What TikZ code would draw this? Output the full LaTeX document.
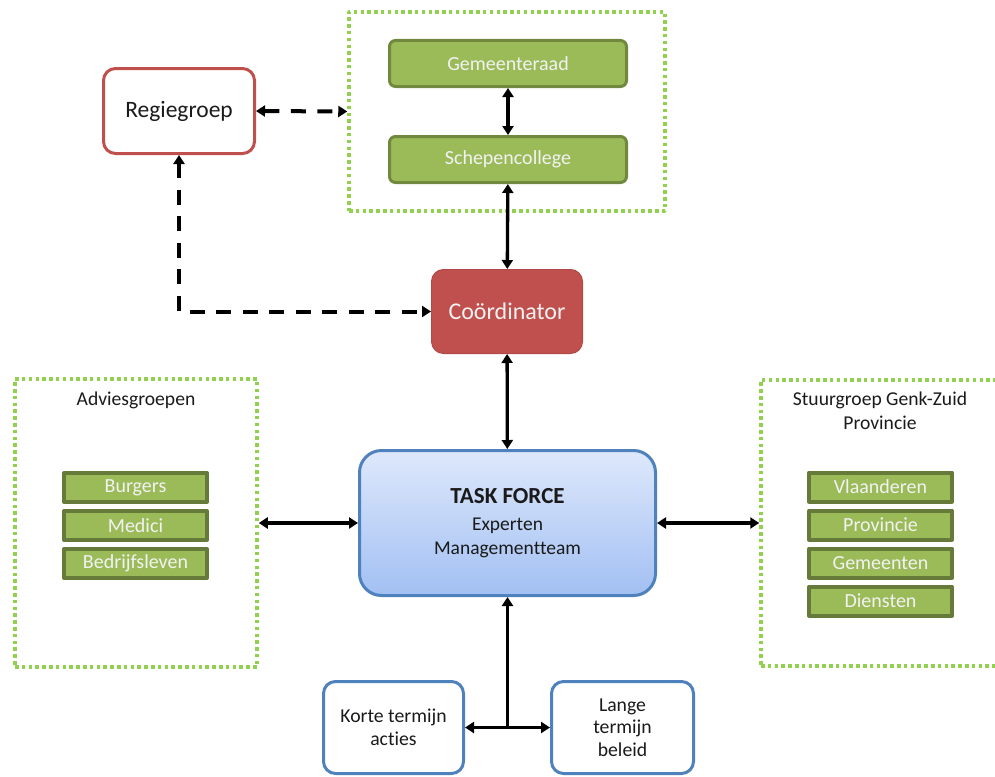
\documentclass[tikz,border=0pt]{standalone}
\usepackage{fontspec}
\setmainfont{Carlito}[Ligatures=NoCommon]
\usetikzlibrary{arrows.meta,calc}
\definecolor{olijf}{HTML}{9BBB59}
\definecolor{olijfrand}{HTML}{71893F}
\definecolor{rood}{HTML}{C0504D}
\definecolor{blauwrand}{HTML}{4F81BD}
\definecolor{blauwtop}{HTML}{DEE8FB}
\definecolor{blauwbodem}{HTML}{A2C0F3}
\definecolor{lichtgroen}{HTML}{92D050}
\definecolor{tekst}{HTML}{1A1A1A}
\tikzset{
	orgaan/.style={draw=olijfrand, line width=3pt, fill=olijf, text=white!95!black, rounded corners=6pt,
		minimum width=237pt, minimum height=46pt, font=\fontsize{20}{23}\selectfont},
	lid/.style={draw=olijfrand!90!black, line width=4pt, fill=olijf, text=white!95!black, inner sep=0pt,
		minimum width=143pt, minimum height=29pt, font=\fontsize{20}{24}\selectfont},
	groep/.style={draw=lichtgroen, line width=3.5pt, dash pattern=on 3.5pt off 3.3pt, inner sep=0pt},
	wit/.style={draw=#1, line width=3pt, fill=white, text=tekst, rounded corners=12pt, align=center},
	pijl/.style={<->, line width=3.3pt},
	stippel/.style={<->, line width=4pt, dash pattern=on 15pt off 11.5pt},
}
\begin{document}
\begin{tikzpicture}[>={Triangle[length=9pt,width=11pt]}, x=1pt, y=-1pt, line join=round]
	\useasboundingbox (0,0) rectangle (995,776);
	% bestuur bovenaan
	\node[groep, minimum width=316pt, minimum height=199pt] (bestuur) at (507,111.5) {};
	\node[orgaan] (raad) at (508,63.5) {Gemeenteraad};
	\node[orgaan] (college) at (508,159.5) {Schepencollege};
	\node[wit=rood, minimum width=151pt, minimum height=85pt, font=\fontsize{23.5}{26}\selectfont] (regie) at (179,111) {Regiegroep};
	\node[draw=rood!92!black, line width=1pt, fill=rood, text=white!95!black, rounded corners=12pt,
		minimum width=151pt, minimum height=84pt, font=\fontsize{24}{26}\selectfont] (coord) at (507,311.5) {Coördinator};
	% task force
	\node[draw=blauwrand, line width=3pt, top color=blauwtop, bottom color=blauwbodem,
		rounded corners=22pt, minimum width=296pt, minimum height=145pt, align=center, text=tekst,
		font=\fontsize{19.5}{24}\selectfont] (task) at (507.5,523)
		{{\fontsize{23}{26}\selectfont\bfseries TASK FORCE}\\[3pt]Experten\\Managementteam};
	% adviesgroepen links
	\node[groep, minimum width=242pt, minimum height=288pt] (advies) at (136,523) {};
	\node[text=tekst, font=\fontsize{19.6}{23}\selectfont] (adviestitel) at (136,400) {Adviesgroepen};
	\foreach \naam [count=\i] in {Burgers,Medici,Bedrijfsleven}
		\node[lid] (advies\i) at (135.5,{487.5+38*(\i-1)}) {\naam};
	% stuurgroep rechts
	\node[groep, minimum width=240pt, minimum height=286pt] (stuur) at (881,523) {};
	\node[text=tekst, align=center, font=\fontsize{19.6}{24}\selectfont] (stuurtitel) at (880,411) {Stuurgroep Genk-Zuid\\Provincie};
	\foreach \naam [count=\i] in {Vlaanderen,Provincie,Gemeenten,Diensten}
		\node[lid] (stuur\i) at (880.5,{487+38*(\i-1)}) {\naam};
	% termijnen onderaan
	\node[wit=blauwrand, minimum width=140pt, minimum height=92pt, font=\fontsize{19.7}{22.5}\selectfont] (korte) at (393.5,727.5) {Korte termijn\\acties};
	\node[wit=blauwrand, minimum width=142pt, minimum height=92pt, font=\fontsize{19.7}{22.5}\selectfont] (lange) at (622.5,727.5) {Lange\\termijn\\beleid};
	\coordinate (splits) at ($(korte.east)!0.5!(lange.west)$);
	% verbindingen
	\draw[stippel] (regie.east) -- (bestuur.west);
	\draw[stippel] (regie.south) |- (coord.west);
	\draw[pijl] (raad) -- (college);
	\draw[pijl] (college) -- (coord);
	\draw[pijl] (coord) -- (task);
	\draw[pijl] (advies.east) -- (task.west);
	\draw[pijl] (task.east) -- (stuur.west);
	\draw[pijl] (korte.east) -- (lange.west);
	\draw[->, line width=3.3pt] (splits) -- (task.south);
\end{tikzpicture}
\end{document}
